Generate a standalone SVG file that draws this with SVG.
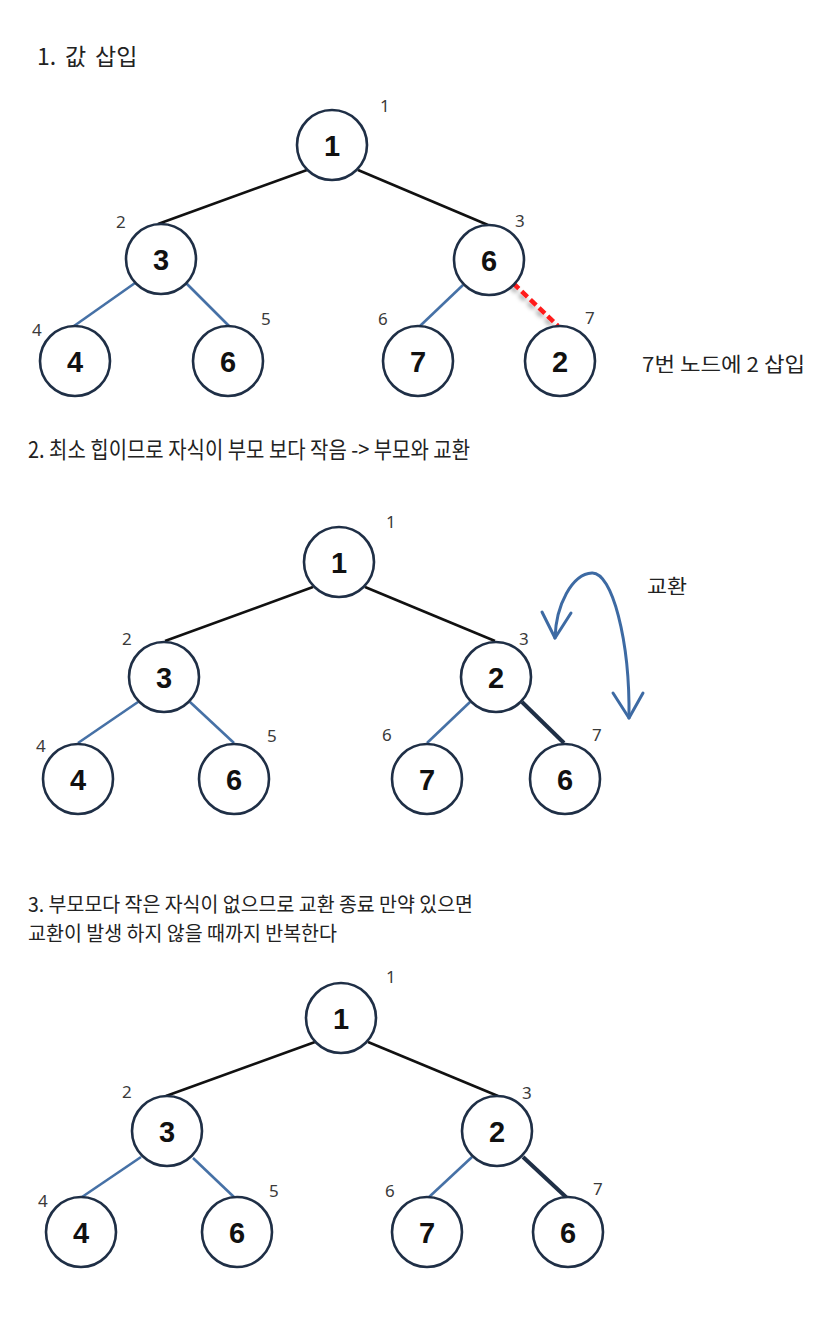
<svg xmlns="http://www.w3.org/2000/svg" width="833" height="1328" viewBox="0 0 833 1328">
<defs>
<style>
.node circle{fill:#fff;stroke:#1f2f46;stroke-width:2.6}
.node text{font-family:"Liberation Sans",Arial,sans-serif;font-weight:bold;font-size:29px;fill:#111;text-anchor:middle}
.lbl{font-family:"Noto Sans","Liberation Sans",sans-serif;font-size:17px;fill:#3a3a3a}
.ttl{font-family:"Noto Sans CJK KR","Noto Sans",sans-serif;font-size:23px;fill:#222}
.sm{font-size:20px}
.ml{font-size:20px}
.blk{stroke:#111;stroke-width:2.6;fill:none}
.blu{stroke:#4671a6;stroke-width:2.6;fill:none}
.drk{stroke:#1f2f46;stroke-width:4;fill:none}
.red{stroke:#ff1a1a;stroke-width:4.5;stroke-dasharray:8 4;fill:none}
.arr{stroke:#3d6aa3;stroke-width:3;fill:none;stroke-linecap:round;stroke-linejoin:round}
</style>
<filter id="sh" x="-50%" y="-50%" width="200%" height="200%">
<feDropShadow dx="-2" dy="3" stdDeviation="2" flood-color="#000" flood-opacity="0.35"/>
</filter>
</defs>
<rect width="833" height="1328" fill="#fff"/>

<!-- titles -->
<text class="ttl" y="65"><tspan x="37">1.</tspan><tspan x="65">값</tspan><tspan x="95">삽입</tspan></text>
<text class="ttl" x="28" y="458" textLength="442" lengthAdjust="spacingAndGlyphs">2. 최소 힙이므로 자식이 부모 보다 작음  -&gt; 부모와 교환</text>
<text class="ttl ml" x="28" y="912" textLength="445" lengthAdjust="spacingAndGlyphs">3. 부모모다 작은 자식이 없으므로 교환 종료 만약 있으면</text>
<text class="ttl ml" x="28" y="941" textLength="309" lengthAdjust="spacingAndGlyphs">교환이 발생 하지 않을 때까지 반복한다</text>
<text class="ttl sm" x="642" y="372" textLength="163" lengthAdjust="spacingAndGlyphs">7번 노드에 2 삽입</text>
<text class="ttl sm" x="647" y="594" textLength="40" lengthAdjust="spacingAndGlyphs">교환</text>

<!-- connectors -->
<g id="connectors">
<!-- tree 1 -->
<line class="blk" x1="307" y1="170" x2="158" y2="224"/>
<line class="blk" x1="358" y1="170" x2="488" y2="225"/>
<line class="blu" x1="135" y1="283" x2="74" y2="326"/>
<line class="blu" x1="186" y1="283" x2="229" y2="326"/>
<line class="blu" x1="463" y1="285" x2="420" y2="326"/>
<line class="red" x1="513" y1="283" x2="558" y2="326" filter="url(#sh)"/>
<!-- tree 2 -->
<line class="blk" x1="313" y1="587" x2="165" y2="641"/>
<line class="blk" x1="365" y1="587" x2="495" y2="641"/>
<line class="blu" x1="138" y1="702" x2="78" y2="743"/>
<line class="blu" x1="190" y1="702" x2="234" y2="743"/>
<line class="blu" x1="470" y1="702" x2="427" y2="743"/>
<line class="drk" x1="522" y1="702" x2="564" y2="743"/>
<!-- swap arrow -->
<path class="arr" d="M555,638 C556,605 572,574 592,573 C612,572 630,640 629,718"/>
<polyline class="arr" points="542,612 555,638 571,613"/>
<polyline class="arr" points="613,693 629,718 643,693"/>
<!-- tree 3 -->
<line class="blk" x1="315" y1="1042" x2="166" y2="1096"/>
<line class="blk" x1="368" y1="1042" x2="498" y2="1096"/>
<line class="blu" x1="141" y1="1157" x2="82" y2="1197"/>
<line class="blu" x1="193" y1="1158" x2="235" y2="1198"/>
<line class="blu" x1="472" y1="1157" x2="428" y2="1198"/>
<line class="drk" x1="523" y1="1157" x2="567" y2="1198"/>
</g>

<!-- tree 1 nodes -->
<g id="t1n1" class="node"><circle cx="332" cy="145" r="35"/><text x="332" y="156">1</text></g>
<g id="t1n2" class="node"><circle cx="161" cy="259" r="35"/><text x="161" y="270">3</text></g>
<g id="t1n3" class="node"><circle cx="489" cy="260" r="35"/><text x="489" y="271">6</text></g>
<g id="t1n4" class="node"><circle cx="75" cy="361" r="35"/><text x="75" y="372">4</text></g>
<g id="t1n5" class="node"><circle cx="228" cy="361" r="35"/><text x="228" y="372">6</text></g>
<g id="t1n6" class="node"><circle cx="418" cy="361" r="35"/><text x="418" y="372">7</text></g>
<g id="t1n7" class="node"><circle cx="560" cy="361" r="35"/><text x="560" y="372">2</text></g>
<text class="lbl" x="380" y="112">1</text>
<text class="lbl" x="116" y="228">2</text>
<text class="lbl" x="515" y="227">3</text>
<text class="lbl" x="32" y="336">4</text>
<text class="lbl" x="261" y="325">5</text>
<text class="lbl" x="378" y="325">6</text>
<text class="lbl" x="585" y="324">7</text>

<!-- tree 2 nodes -->
<g id="t2n1" class="node"><circle cx="339" cy="562" r="35"/><text x="339" y="573">1</text></g>
<g id="t2n2" class="node"><circle cx="164" cy="677" r="35"/><text x="164" y="688">3</text></g>
<g id="t2n3" class="node"><circle cx="496" cy="677" r="35"/><text x="496" y="688">2</text></g>
<g id="t2n4" class="node"><circle cx="78" cy="779" r="35"/><text x="78" y="790">4</text></g>
<g id="t2n5" class="node"><circle cx="234" cy="779" r="35"/><text x="234" y="790">6</text></g>
<g id="t2n6" class="node"><circle cx="427" cy="779" r="35"/><text x="427" y="790">7</text></g>
<g id="t2n7" class="node"><circle cx="565" cy="779" r="35"/><text x="565" y="790">6</text></g>
<text class="lbl" x="386" y="528">1</text>
<text class="lbl" x="122" y="645">2</text>
<text class="lbl" x="519" y="645">3</text>
<text class="lbl" x="36" y="752">4</text>
<text class="lbl" x="267" y="742">5</text>
<text class="lbl" x="382" y="741">6</text>
<text class="lbl" x="592" y="741">7</text>

<!-- tree 3 nodes -->
<g id="t3n1" class="node"><circle cx="341" cy="1018" r="35"/><text x="341" y="1029">1</text></g>
<g id="t3n2" class="node"><circle cx="167" cy="1131" r="35"/><text x="167" y="1142">3</text></g>
<g id="t3n3" class="node"><circle cx="497" cy="1131" r="35"/><text x="497" y="1142">2</text></g>
<g id="t3n4" class="node"><circle cx="81" cy="1232" r="35"/><text x="81" y="1243">4</text></g>
<g id="t3n5" class="node"><circle cx="237" cy="1232" r="35"/><text x="237" y="1243">6</text></g>
<g id="t3n6" class="node"><circle cx="427" cy="1232" r="35"/><text x="427" y="1243">7</text></g>
<g id="t3n7" class="node"><circle cx="568" cy="1232" r="35"/><text x="568" y="1243">6</text></g>
<text class="lbl" x="386" y="983">1</text>
<text class="lbl" x="122" y="1098">2</text>
<text class="lbl" x="522" y="1099">3</text>
<text class="lbl" x="38" y="1207">4</text>
<text class="lbl" x="269" y="1197">5</text>
<text class="lbl" x="385" y="1197">6</text>
<text class="lbl" x="593" y="1195">7</text>
</svg>
